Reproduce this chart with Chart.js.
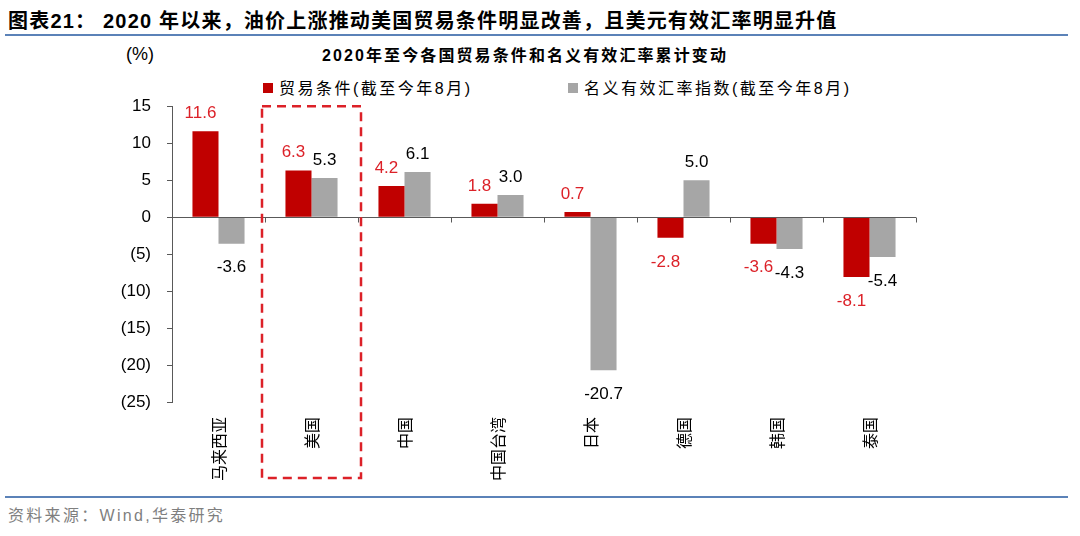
<!DOCTYPE html>
<html>
<head>
    <title>贸易条件和名义有效汇率</title>
    <style>
        body {
            margin: 0;
            width: 1080px;
            height: 536px;
            background: #ffffff;
            position: relative;
            overflow: hidden;
            font-family: "Liberation Sans", Arial, "Noto Sans CJK SC", sans-serif;
        }
        .header {
            position: absolute;
            left: 8px;
            top: 5px;
            font-size: 20px;
            font-weight: bold;
            letter-spacing: 1.2px;
            color: #000;
            white-space: nowrap;
        }
        .rule {
            position: absolute;
            left: 5px;
            width: 1063px;
            height: 2px;
            background: #5b82b8;
        }
        .chart-title {
            position: absolute;
            left: 0;
            width: 1050px;
            top: 42px;
            text-align: center;
            font-size: 16px;
            font-weight: bold;
            letter-spacing: 2.1px;
            white-space: nowrap;
        }
        .unit {
            position: absolute;
            left: 126px;
            top: 44px;
            font-size: 18px;
        }
        .legend {
            position: absolute;
            top: 75px;
            font-size: 16px;
            letter-spacing: 2.5px;
            white-space: nowrap;
        }
        .legend span.box {
            display: inline-block;
            width: 10px;
            height: 10px;
            margin-right: 6px;
            vertical-align: 1px;
        }
        .source {
            position: absolute;
            left: 8px;
            top: 502px;
            font-size: 16px;
            color: #7f7f7f;
            letter-spacing: 2.3px;
        }
        #chart-box {
            position: absolute;
            left: 0;
            top: 80px;
            width: 960px;
            height: 415px;
        }
    </style>
</head>
<body>
    <div class="header">图表21： 2020 年以来，油价上涨推动美国贸易条件明显改善，且美元有效汇率明显升值</div>
    <div class="rule" style="top: 34px;"></div>
    <div class="chart-title">2020年至今各国贸易条件和名义有效汇率累计变动</div>
    <div class="unit">(%)</div>
    <div class="legend" style="left: 263px;"><span class="box" style="background:#c00000"></span>贸易条件(截至今年8月)</div>
    <div class="legend" style="left: 568px;"><span class="box" style="background:#a6a6a6"></span>名义有效汇率指数(截至今年8月)</div>

    <div id="chart-box"><canvas id="tot-chart"></canvas></div>

    <div class="rule" style="top: 496px;"></div>
    <div class="source">资料来源：Wind,华泰研究</div>

    <script src="https://cdn.jsdelivr.net/npm/chart.js"></script>
    <script>
        // Data
        const countries = ['马来西亚', '美国', '中国', '中国台湾', '日本', '德国', '韩国', '泰国'];
        const termsOfTrade = [11.6, 6.3, 4.2, 1.8, 0.7, -2.8, -3.6, -8.1];
        const neerIndex = [-3.6, 5.3, 6.1, 3.0, -20.7, 5.0, -4.3, -5.4];
        const yTicks = [15, 10, 5, 0, -5, -10, -15, -20, -25];
        const highlightIndex = 1; // 美国 gets the dashed box

        const RED = '#c00000';
        const GRAY = '#a6a6a6';
        const AXIS = '#595959';

        // zero line + small tick marks at category boundaries
        const zeroAxisPlugin = {
            id: 'zeroAxis',
            afterDatasetsDraw(chart) {
                const ctx = chart.ctx;
                const area = chart.chartArea;
                const x = chart.scales.x;
                const y0 = Math.round(chart.scales.y.getPixelForValue(0)) + 0.5;
                const catW = (area.right - area.left) / countries.length;
                ctx.save();
                ctx.strokeStyle = AXIS;
                ctx.lineWidth = 1;
                ctx.beginPath();
                ctx.moveTo(area.left, y0);
                ctx.lineTo(area.right, y0);
                for (let i = 0; i <= countries.length; i++) {
                    const bx = Math.round(x.getPixelForValue(i) - catW / 2) + 0.5;
                    ctx.moveTo(bx, y0);
                    ctx.lineTo(bx, y0 + 5);
                }
                ctx.stroke();
                ctx.restore();
            }
        };

        // value labels above / below each bar (red ones nudged a bit left, like the original)
        const valueLabelPlugin = {
            id: 'valueLabels',
            afterDatasetsDraw(chart) {
                const ctx = chart.ctx;
                ctx.save();
                ctx.font = '17px "Liberation Sans", Arial, sans-serif';
                ctx.textAlign = 'center';
                ctx.textBaseline = 'middle';
                chart.data.datasets.forEach((ds, di) => {
                    const meta = chart.getDatasetMeta(di);
                    ctx.fillStyle = di === 0 ? '#dc2128' : '#000000';
                    const dx = di === 0 ? -5 : 0;
                    meta.data.forEach((bar, i) => {
                        const v = ds.data[i];
                        const ty = v >= 0 ? bar.y - 18 : bar.y + 24;
                        ctx.fillText(v.toFixed(1), bar.x + dx, ty);
                    });
                });
                ctx.restore();
            }
        };

        // dashed red frame around the highlighted country
        const highlightPlugin = {
            id: 'highlightBox',
            afterDraw(chart) {
                const ctx = chart.ctx;
                const area = chart.chartArea;
                const catW = (area.right - area.left) / countries.length;
                const cx = chart.scales.x.getPixelForValue(highlightIndex);
                const left = cx - catW / 2 - 3;
                const right = cx + catW / 2 + 3;
                const top = chart.scales.y.getPixelForValue(yTicks[0]);
                const bottom = area.bottom + 76;
                ctx.save();
                ctx.strokeStyle = '#dc2128';
                ctx.lineWidth = 2.5;
                ctx.setLineDash([9, 6]);
                ctx.strokeRect(left, top, right - left, bottom - top);
                ctx.restore();
            }
        };

        function createChart() {
            const ctx = document.getElementById('tot-chart').getContext('2d');
            new Chart(ctx, {
                type: 'bar',
                data: {
                    labels: countries,
                    datasets: [
                        { label: '贸易条件(截至今年8月)', data: termsOfTrade, backgroundColor: RED },
                        { label: '名义有效汇率指数(截至今年8月)', data: neerIndex, backgroundColor: GRAY }
                    ]
                },
                options: {
                    responsive: true,
                    maintainAspectRatio: false,
                    animation: false,
                    datasets: {
                        bar: { categoryPercentage: 0.56, barPercentage: 1.0 }
                    },
                    layout: { padding: { top: 10, right: 44, bottom: 0, left: 0 } },
                    plugins: {
                        legend: { display: false },
                        tooltip: { enabled: false }
                    },
                    scales: {
                        x: {
                            grid: { display: false },
                            border: { display: false },
                            afterFit(scale) { scale.height = 93; },
                            ticks: {
                                minRotation: 90,
                                maxRotation: 90,
                                padding: 7,
                                color: '#000',
                                font: { family: '"Noto Sans CJK SC", sans-serif', size: 16 }
                            }
                        },
                        y: {
                            min: yTicks[yTicks.length - 1],
                            max: yTicks[0],
                            afterFit(scale) { scale.width = 172; },
                            afterBuildTicks(scale) {
                                scale.ticks = yTicks.map(v => ({ value: v }));
                            },
                            border: { display: true, color: AXIS, width: 1 },
                            grid: {
                                drawOnChartArea: false,
                                drawTicks: true,
                                tickLength: 5,
                                color: AXIS
                            },
                            ticks: {
                                padding: 16,
                                color: '#000',
                                font: { family: '"Liberation Sans", Arial, sans-serif', size: 17 },
                                callback: v => v < 0 ? '(' + (-v) + ')' : String(v)
                            }
                        }
                    }
                },
                plugins: [zeroAxisPlugin, valueLabelPlugin, highlightPlugin]
            });
        }

        createChart();
    </script>
</body>
</html>
